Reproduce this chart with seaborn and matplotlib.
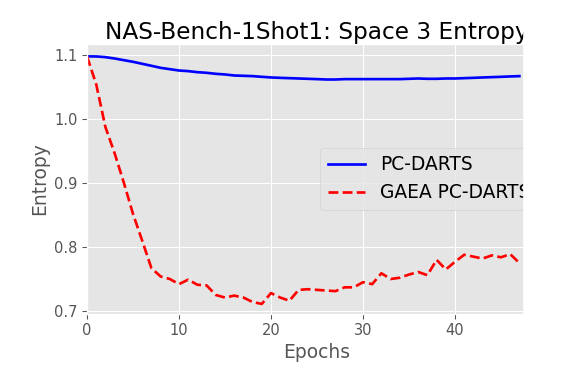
import matplotlib
matplotlib.use("Agg")
import matplotlib.pyplot as plt
from matplotlib.patches import Rectangle
import seaborn as sns
import pandas as pd

# entropy per epoch
epochs = list(range(48))
pc_darts = [1.0986, 1.0985, 1.0974, 1.0953, 1.0927, 1.0901, 1.0870, 1.0839,
            1.0807, 1.0786, 1.0765, 1.0755, 1.0739, 1.0729, 1.0713, 1.0703,
            1.0687, 1.0682, 1.0677, 1.0666, 1.0656, 1.0650, 1.0645, 1.0640,
            1.0635, 1.0630, 1.0624, 1.0624, 1.0630, 1.0630, 1.0630, 1.0630,
            1.0630, 1.0630, 1.0630, 1.0635, 1.0640, 1.0635, 1.0635, 1.0640,
            1.0640, 1.0645, 1.0650, 1.0656, 1.0661, 1.0666, 1.0672, 1.0677]
gaea_pc_darts = [1.0986, 1.055, 0.988, 0.947, 0.901, 0.852, 0.810, 0.767,
                 0.754, 0.750, 0.742, 0.749, 0.741, 0.740, 0.725, 0.721,
                 0.724, 0.721, 0.714, 0.711, 0.728, 0.721, 0.716, 0.733,
                 0.734, 0.733, 0.732, 0.731, 0.737, 0.737, 0.745, 0.742,
                 0.759, 0.750, 0.752, 0.757, 0.761, 0.756, 0.780, 0.765,
                 0.777, 0.788, 0.785, 0.782, 0.787, 0.784, 0.789, 0.775]

df = pd.DataFrame({"epoch": epochs, "PC-DARTS": pc_darts, "GAEA PC-DARTS": gaea_pc_darts})

plt.style.use("ggplot")
plt.rcParams["font.family"] = ["DejaVu Sans"]

fig = plt.figure(figsize=(6, 4), dpi=96)
ax = fig.add_axes([87 / 576, 1 - 313.5 / 384, 460 / 576, 269.5 / 384])

sns.lineplot(data=df, x="epoch", y="PC-DARTS", ax=ax, color="blue", lw=2, label="PC-DARTS")
sns.lineplot(data=df, x="epoch", y="GAEA PC-DARTS", ax=ax, color="red", lw=2,
             linestyle="--", label="GAEA PC-DARTS")

ax.set_xlim(0, 50)
ax.set_ylim(0.696, 1.118)
ax.set_yticks([0.7, 0.8, 0.9, 1.0, 1.1])
ax.tick_params(labelsize=11)
ax.set_xlabel("Epochs", fontsize=14)
ax.set_ylabel("Entropy", fontsize=14)
ax.set_title("NAS-Bench-1Shot1: Space 3 Entropy", fontsize=17.4, pad=4)
ax.legend(loc="center right", fontsize=14)

# the original image is cut off on the right
fig.add_artist(Rectangle((523 / 576, 0), 1, 1, transform=fig.transFigure,
                         color="white", zorder=100))

fig.savefig("out.png", dpi=96)
